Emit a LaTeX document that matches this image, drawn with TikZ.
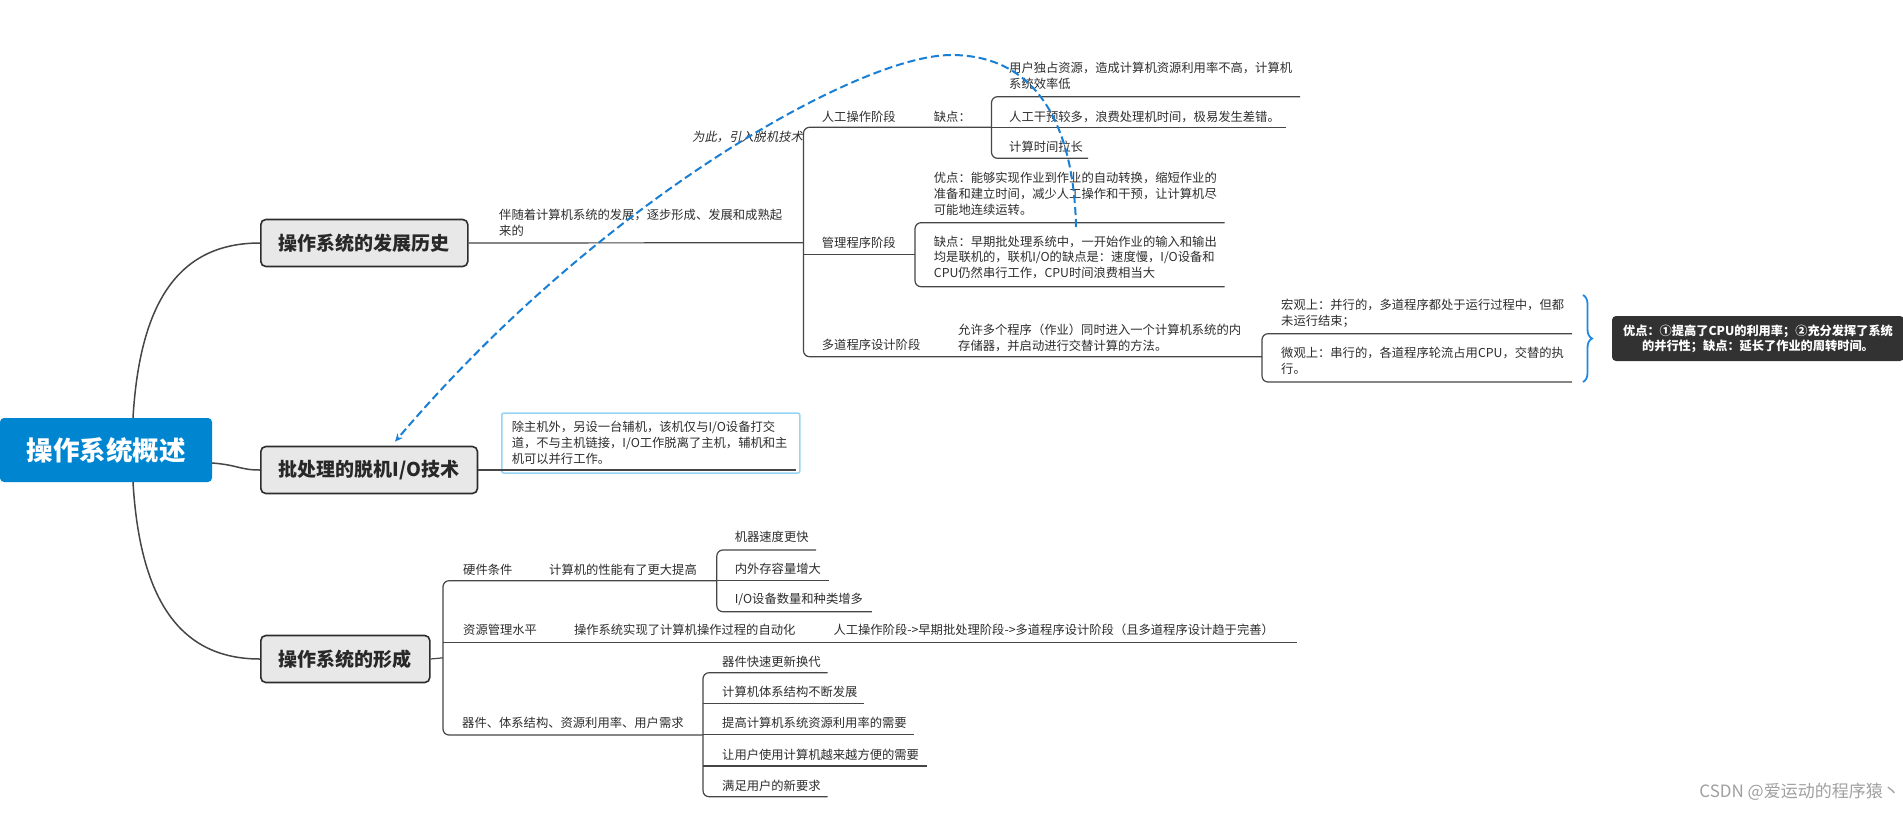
\documentclass[tikz,border=0pt]{standalone}
\usepackage{fontspec}
\setmainfont{Noto Sans CJK SC}
\newfontfamily\cjkit{Noto Sans CJK SC}[FakeSlant=0.2]
\usetikzlibrary{arrows.meta,decorations.pathreplacing,calc}
\definecolor{rootblue}{RGB}{0,134,209}
\definecolor{boxfill}{RGB}{232,232,232}
\definecolor{boxborder}{RGB}{45,45,45}
\definecolor{boxtext}{RGB}{40,40,40}
\definecolor{linegray}{RGB}{70,70,70}
\definecolor{textgray}{RGB}{45,45,45}
\definecolor{dashblue}{RGB}{25,127,212}
\definecolor{bracecol}{RGB}{30,136,229}
\definecolor{descborder}{RGB}{150,212,245}
\definecolor{darkfill}{RGB}{50,50,50}
\definecolor{wmgray}{RGB}{160,160,160}
\begin{document}
\begin{tikzpicture}[x=1pt,y=-1pt,
  txt/.style={anchor=west,inner sep=0pt,text=textgray,align=left,font=\fontsize{12.3}{15.8}\selectfont},
  mainbox/.style={anchor=west,draw=boxborder,line width=1.6pt,fill=boxfill,rounded corners=5pt,inner xsep=18pt,inner ysep=0pt,minimum height=47pt,text=boxtext,font=\fontsize{19}{22}\selectfont\bfseries},
  rootbox/.style={fill=rootblue,rounded corners=4pt,minimum width=212pt,minimum height=64pt,inner sep=0pt,text=white,font=\fontsize{26.5}{30}\selectfont\bfseries},
  ln/.style={draw=linegray,line width=1.2pt},
  brk/.style={ln,rounded corners=6pt},
  darkbox/.style={fill=darkfill,rounded corners=4pt,minimum width=292pt,minimum height=45pt,inner sep=0pt,text=white,align=center,font=\fontsize{12.2}{15}\selectfont\bfseries},
  descbox/.style={anchor=north west,draw=descborder,line width=1.5pt,fill=white,rounded corners=2pt,inner xsep=10pt,inner ysep=7pt,text width=278pt,minimum height=60pt,text=textgray,align=left,font=\fontsize{12.3}{15.8}\selectfont},
  dasharrow/.style={draw=dashblue,line width=2pt,dash pattern=on 8pt off 4pt,-{Stealth[length=8pt,width=7pt]}},
  bracestyle/.style={draw=bracecol,line width=1.8pt,decorate,decoration={brace,amplitude=9pt}}
]
\useasboundingbox (0,0) rectangle (1903,812);
\fill[white] (0,0) rectangle (1903,812);

% ---------- main nodes ----------
\node[rootbox] (root) at (106,450) {操作系统概述};
\node[mainbox] (b1) at (260,243) {操作系统的发展历史};
\node[mainbox] (b2) at (260,470) {批处理的脱机I/O技术};
\node[mainbox] (b3) at (260,659) {操作系统的形成};

% root connectors
\draw[ln,line width=1.5pt] ([xshift=27pt]root.north) .. controls (140,300) and (180,243) .. (b1.west);
\draw[ln,line width=1.5pt] ([xshift=27pt]root.south) .. controls (140,600) and (180,659) .. (b3.west);
\draw[ln,line width=1.5pt] ([yshift=-13pt]root.east) .. controls (238,465) and (240,470) .. (b2.west);

% ---------- branch 1 ----------
\node[txt] (t1) at (499,222.5) {伴随着计算机系统的发展，逐步形成、发展和成熟起\\来的};
\coordinate (k1) at (803.5,242.7);
\draw[ln] (b1.east) -- (k1);
\draw[brk] (991.5,127.3) -- (803.5,127.3) -- (803.5,356.7) -- (1262,356.7);
\draw[ln] (803.5,254.7) -- (915,254.7);

\node[txt] (s1) at (821.7,116.7) {人工操作阶段};
\node[txt] (s1q) at (933.7,116.7) {缺点：};
\draw[brk] (1300,96.7) -- (991.5,96.7) -- (991.5,158.3) -- (1088,158.3);
\draw[ln] (991.5,127.3) -- (1286,127.3);
\node[txt] (q1) at (1009,75.8) {用户独占资源，造成计算机资源利用率不高，计算机\\系统效率低};
\node[txt] (q2) at (1009,116.7) {人工干预较多，浪费处理机时间，极易发生差错。};
\node[txt] (q3) at (1009,146.7) {计算时间拉长};

\node[txt] (s2) at (821.7,243.3) {管理程序阶段};
\draw[brk] (1224.5,222.7) -- (915,222.7) -- (915,286.7) -- (1224.5,286.7);
\node[txt] (m1) at (933.7,193.6) {优点：能够实现作业到作业的自动转换，缩短作业的\\准备和建立时间，减少人工操作和干预，让计算机尽\\可能地连续运转。};
\node[txt] (m2) at (933.7,257.3) {缺点：早期批处理系统中，一开始作业的输入和输出\\均是联机的，联机I/O的缺点是：速度慢，I/O设备和\\CPU仍然串行工作，CPU时间浪费相当大};

\node[txt] (s3) at (821.7,345) {多道程序设计阶段};
\node[txt] (s3d) at (958,337.8) {允许多个程序（作业）同时进入一个计算机系统的内\\存储器，并启动进行交替计算的方法。};
\draw[brk] (1572,333.7) -- (1262,333.7) -- (1262,382) -- (1572,382);
\node[txt] (p1) at (1281,313.3) {宏观上：并行的，多道程序都处于运行过程中，但都\\未运行结束；};
\node[txt] (p2) at (1281,360.5) {微观上：串行的，各道程序轮流占用CPU，交替的执\\行。};
\draw[bracestyle] (1583,295) -- (1583,382);
\node[darkbox] (adv) at (1758,338.5) {优点：①提高了CPU的利用率；②充分发挥了系统\\的并行性；缺点：延长了作业的周转时间。};

% dashed relation
\node[txt,font=\cjkit\fontsize{12.3}{15.8}\selectfont] (lbl) at (692,136.7) {为此，引入脱机技术};
\coordinate (dstart) at (1076,227);
\draw[dasharrow] (dstart) .. controls (1074,130) and (1040,55) .. (951,55) .. controls (860,55) and (600,200) .. ([xshift=135pt,yshift=4pt]b2.north west);

% ---------- branch 2 ----------
\node[descbox] (desc) at (501,412.3) {除主机外，另设一台辅机，该机仅与I/O设备打交\\道，不与主机链接，I/O工作脱离了主机，辅机和主\\机可以并行工作。};
\coordinate (dl) at (796,470);
\draw[ln] (b2.east) -- (dl);

% ---------- branch 3 ----------
\draw[ln] (b3.east) -- (443,657.8);
\draw[brk] (716.8,580.7) -- (443,580.7) -- (443,735) -- (703,735);
\draw[ln] (443,642.5) -- (1297,642.5);
\node[txt] (h1) at (463,570) {硬件条件};
\node[txt] (h2) at (549,570) {计算机的性能有了更大提高};
\draw[brk] (816,550) -- (716.8,550) -- (716.8,611.7) -- (871.8,611.7);
\draw[ln] (716.8,580.7) -- (828.7,580.7);
\node[txt] (h3) at (734.6,536.7) {机器速度更快};
\node[txt] (h4) at (734.6,568.3) {内外存容量增大};
\node[txt] (h5) at (734.6,599.3) {I/O设备数量和种类增多};

\node[txt] (r1) at (463,630) {资源管理水平};
\node[txt] (r2) at (573.8,630) {操作系统实现了计算机操作过程的自动化};
\node[txt] (r3) at (833.3,630) {人工操作阶段->早期批处理阶段->多道程序设计阶段（且多道程序设计趋于完善）};

\node[txt] (d0) at (462,723) {器件、体系结构、资源利用率、用户需求};
\draw[brk] (827.6,672.7) -- (703,672.7) -- (703,796.7) -- (827.6,796.7);
\draw[ln] (703,703.3) -- (864,703.3);
\draw[ln] (703,734.3) -- (913.7,734.3);
\draw[ln] (703,766) -- (927,766);
\node[txt] (d1) at (722,661.7) {器件快速更新换代};
\node[txt] (d2) at (722,692.3) {计算机体系结构不断发展};
\node[txt] (d3) at (722,723.3) {提高计算机系统资源利用率的需要};
\node[txt] (d4) at (722,755) {让用户使用计算机越来越方便的需要};
\node[txt] (d5) at (722,785.7) {满足用户的新要求};

% watermark
\node[anchor=east,inner sep=0pt,text=wmgray,font=\fontsize{17}{20}\selectfont] (wm) at (1900,792) {CSDN @爱运动的程序猿丶};
\end{tikzpicture}
\end{document}
